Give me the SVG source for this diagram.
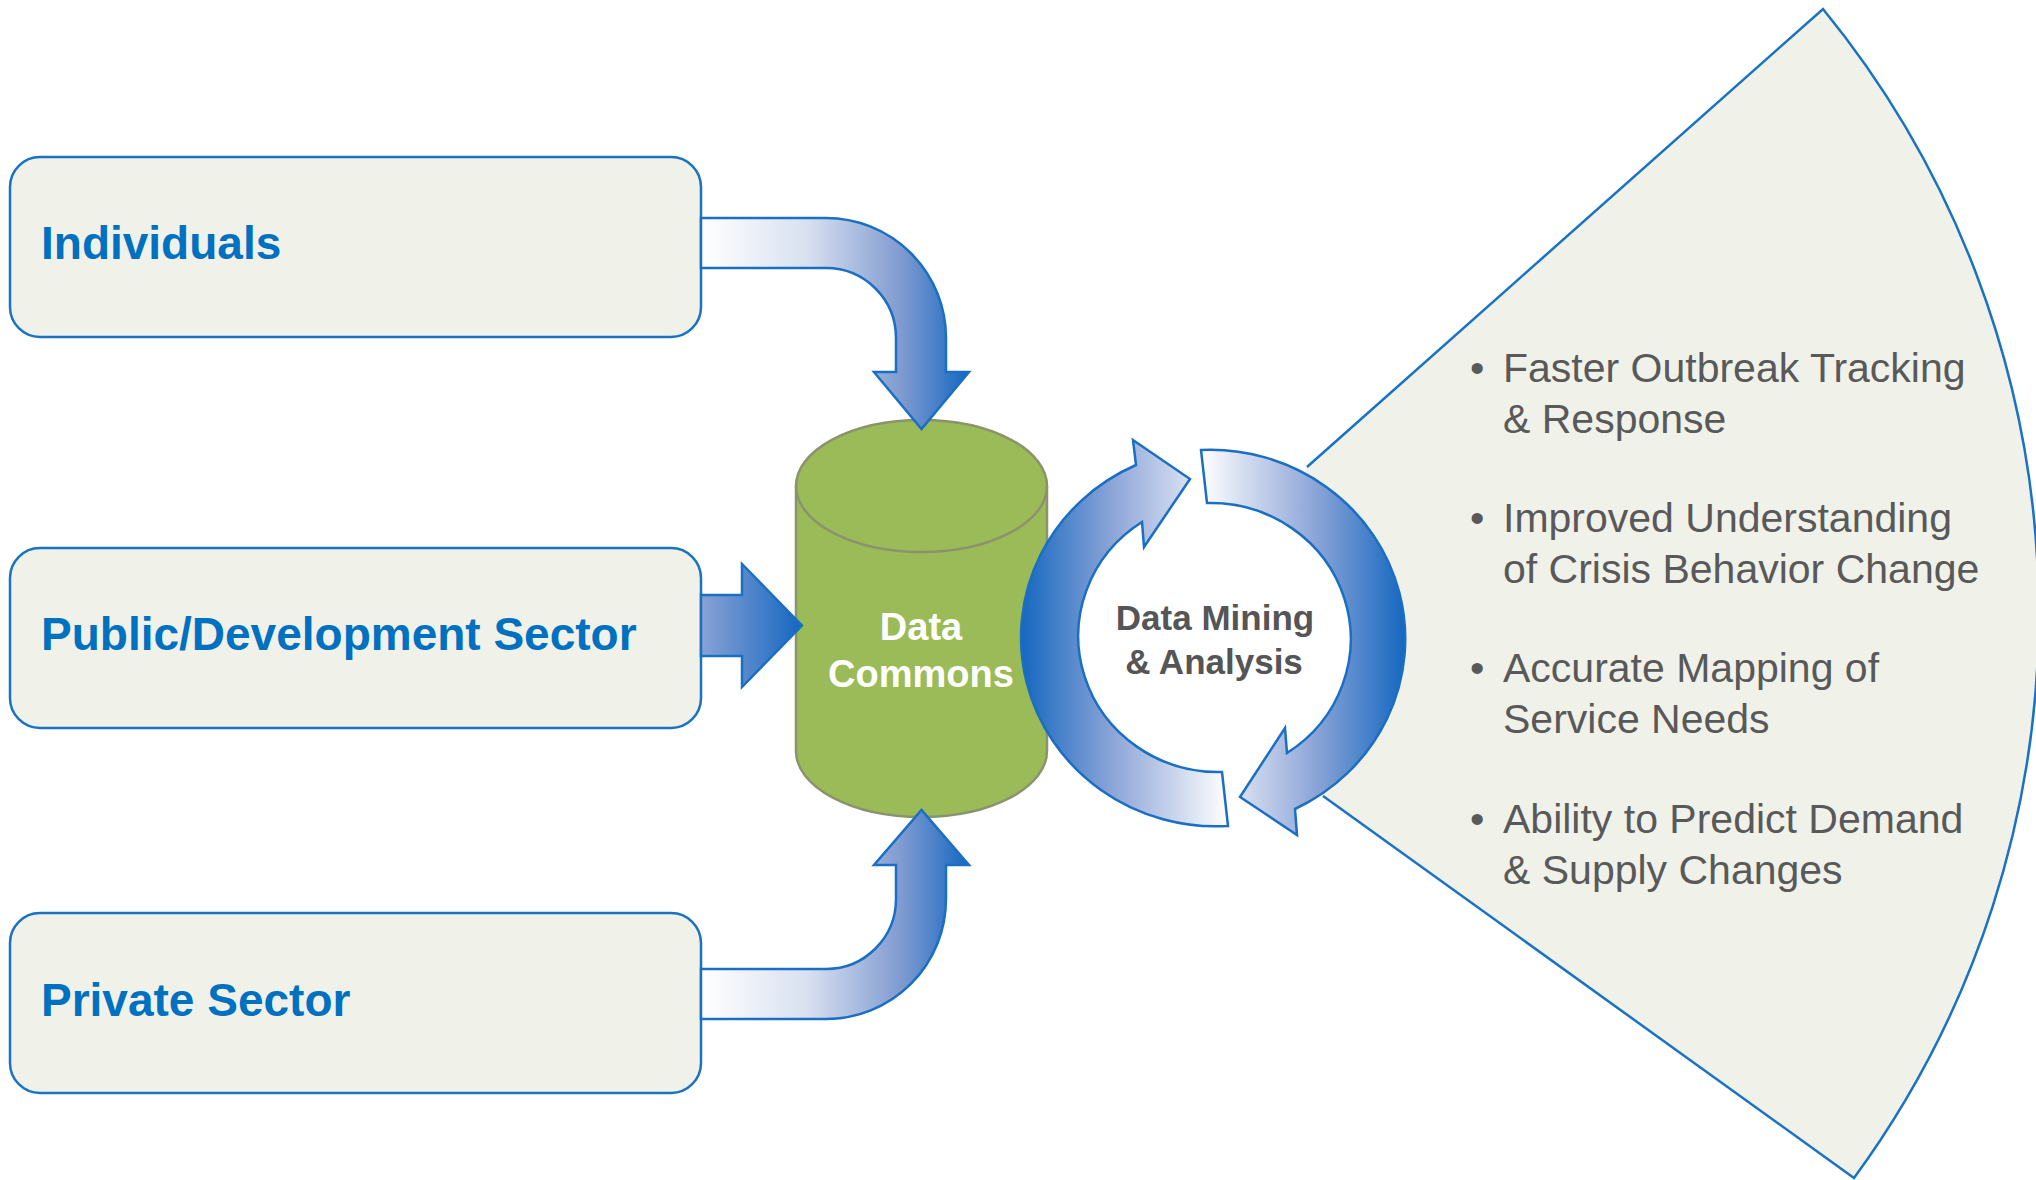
<svg xmlns="http://www.w3.org/2000/svg" width="2036" height="1180" viewBox="0 0 2036 1180">
<style>
.box{fill:#F0F2EA;stroke:#1A72C2;stroke-width:2.5}
.lbl{font-family:"Liberation Sans",Arial,sans-serif;font-weight:bold;font-size:46px;fill:#0070C0}
.arr{stroke:#1A6FC2;stroke-width:2.5;stroke-linejoin:miter}
.cyl{fill:#9BBB59;stroke:#8A946C;stroke-width:2.5}
.ctr{font-family:"Liberation Sans",Arial,sans-serif;font-weight:bold;text-anchor:middle}
.bul{font-family:"Liberation Sans",Arial,sans-serif;font-size:41px;fill:#595959}
</style>
<defs>
<linearGradient id="gBend" x1="0" y1="0" x2="1" y2="0">
<stop offset="0" stop-color="#FFFFFF"/>
<stop offset="0.4" stop-color="#D8E0F0"/>
<stop offset="0.75" stop-color="#7F9AD0"/>
<stop offset="1" stop-color="#1467C0"/>
</linearGradient>
<linearGradient id="gStraight" x1="0" y1="0" x2="1" y2="0">
<stop offset="0" stop-color="#8AA2D6"/>
<stop offset="1" stop-color="#1467C0"/>
</linearGradient>
<linearGradient id="gLeft" x1="0" y1="0" x2="1" y2="0">
<stop offset="0" stop-color="#1467C0"/>
<stop offset="0.45" stop-color="#8EA6D8"/>
<stop offset="1" stop-color="#FFFFFF"/>
</linearGradient>
<linearGradient id="gRight" x1="0" y1="0" x2="1" y2="0">
<stop offset="0" stop-color="#FFFFFF"/>
<stop offset="0.55" stop-color="#8EA6D8"/>
<stop offset="1" stop-color="#1467C0"/>
</linearGradient>
</defs>

<g id="outcomes">
<path d="M1323,796 L1214,638 L1307,467 L1823,9 A955,955 0 0 1 1854,1178 Z" fill="#F0F2EA" stroke="none"/>
<path d="M1307,467 L1823,9 A955,955 0 0 1 1854,1178 L1323,796" fill="none" stroke="#1A72C2" stroke-width="2.5"/>
<g class="bul">
<text x="1470" y="382">•</text><text x="1503" y="382">Faster Outbreak Tracking</text>
<text x="1503" y="433">&amp; Response</text>
<text x="1470" y="532">•</text><text x="1503" y="532">Improved Understanding</text>
<text x="1503" y="583">of Crisis Behavior Change</text>
<text x="1470" y="682">•</text><text x="1503" y="682">Accurate Mapping of</text>
<text x="1503" y="733">Service Needs</text>
<text x="1470" y="833">•</text><text x="1503" y="833">Ability to Predict Demand</text>
<text x="1503" y="884">&amp; Supply Changes</text>
</g>
</g>

<g id="individuals">
<rect class="box" x="10" y="157" width="691" height="180" rx="30" ry="30"/>
<text class="lbl" x="41" y="259">Individuals</text>
</g>
<g id="public-sector">
<rect class="box" x="10" y="548" width="691" height="180" rx="30" ry="30"/>
<text class="lbl" x="41" y="650">Public/Development Sector</text>
</g>
<g id="private-sector">
<rect class="box" x="10" y="913" width="691" height="180" rx="30" ry="30"/>
<text class="lbl" x="41" y="1016">Private Sector</text>
</g>

<g id="data-commons">
<path class="cyl" d="M796,486 L796,751 A125.5,66 0 0 0 1047,751 L1047,486 A125.5,66 0 0 0 796,486 Z"/>
<path d="M796,486 A125.5,66 0 0 0 1047,486" fill="none" stroke="#8A946C" stroke-width="2.5"/>
<text class="ctr" x="921" y="640" font-size="38" fill="#FFFFFF">Data</text>
<text class="ctr" x="921" y="687" font-size="38" fill="#FFFFFF">Commons</text>
</g>

<g id="connectors">
<path class="arr" fill="url(#gBend)" d="M701,218 L826,218 A120,120 0 0 1 946,338 L946,372 L969,372 L921.5,429 L874,372 L896,372 L896,338 A70,70 0 0 0 826,268 L701,268 Z"/>
<path class="arr" fill="url(#gStraight)" d="M701,595 L742,595 L742,564 L802,625.5 L742,687 L742,656 L701,656 Z"/>
<path class="arr" fill="url(#gBend)" d="M701,969 L826,969 A70,70 0 0 0 896,899 L896,865 L874,865 L921.5,810 L969,865 L946,865 L946,899 A120,120 0 0 1 826,1019 L701,1019 Z"/>
</g>

<g id="data-mining">
<ellipse cx="1214" cy="638" rx="142" ry="137" fill="#FFFFFF"/>
<path class="arr" fill="url(#gLeft)" d="M1228,826 A195,189 0 0 1 1136,465 L1133,440 L1190,479 L1144,547 L1142,522 A140,136 0 0 0 1222,772 Z"/>
<path class="arr" fill="url(#gRight)" d="M1201,450 A195,189 0 0 1 1295,809 L1297,835 L1240,797 L1285,728 L1287,753 A140,136 0 0 0 1207,503 Z"/>
<text class="ctr" x="1215" y="630" font-size="35" fill="#555555">Data Mining</text>
<text class="ctr" x="1214" y="674" font-size="35" fill="#555555">&amp; Analysis</text>
</g>
</svg>
